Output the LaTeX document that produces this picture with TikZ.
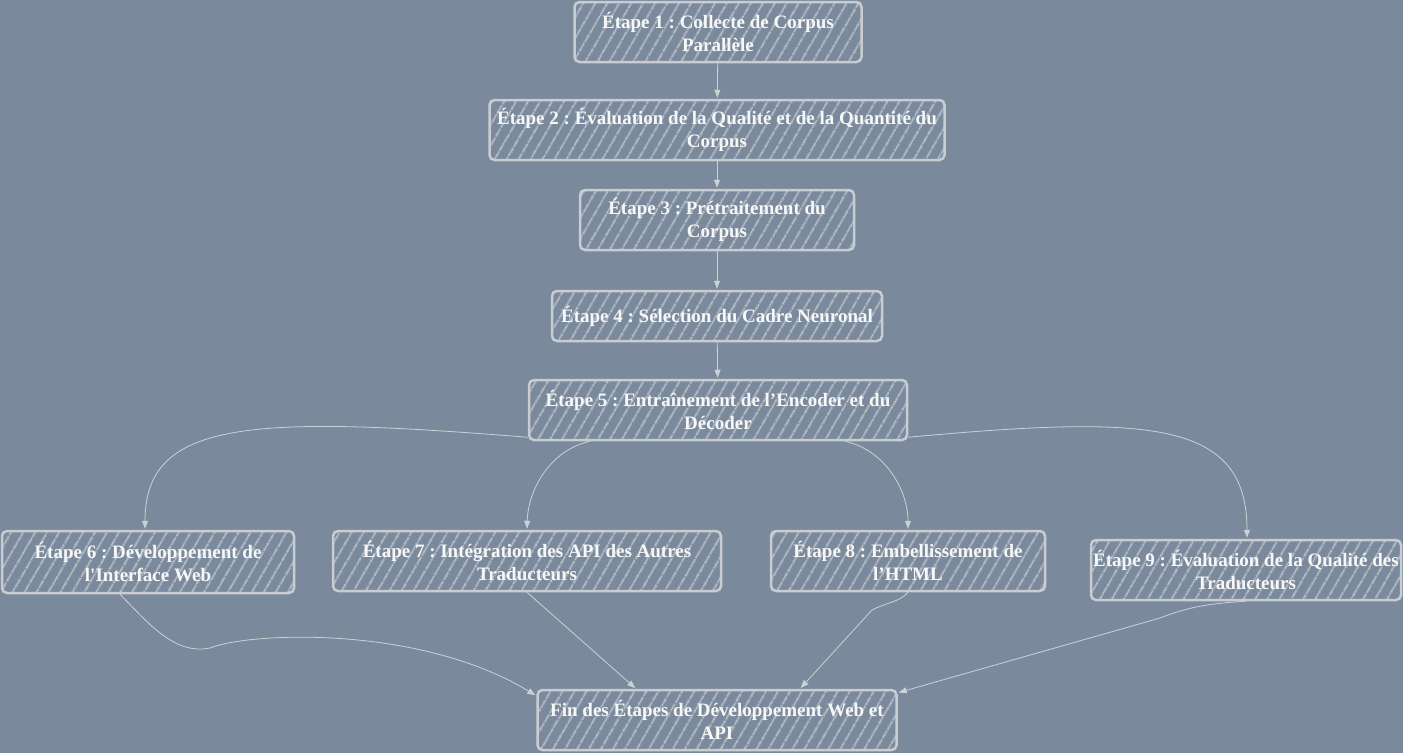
\documentclass[tikz,border=0pt]{standalone}
\usepackage{fontspec}
\setmainfont{Liberation Serif}[Ligatures=TeXOff]
\frenchspacing
\usetikzlibrary{arrows.meta,patterns.meta}
\definecolor{canvas}{HTML}{7A8A9C}
\definecolor{rim}{HTML}{C9CDD2}
\definecolor{hatch}{HTML}{BFC5CC}
\definecolor{ink}{HTML}{F7F7F7}
\definecolor{link}{HTML}{CDD1D6}

\begin{document}
\begin{tikzpicture}[x=1pt,y=-1pt,
  stepbox/.style={draw=rim,line width=2.5pt,rounded corners=5pt,
    pattern={Lines[angle=60,distance=10.5pt,line width=1.6pt]},pattern color=hatch,
    text=ink,font=\fontsize{19}{23}\selectfont\bfseries,align=center,
    minimum height=60pt,inner sep=0pt},
  edge/.style={link,line width=0.8pt,shorten >=1pt,-{Triangle[length=8pt,width=6pt]}}]
  % Canvas
  \fill[canvas] (0,0) rectangle (1403,753);
  \useasboundingbox (0,0) rectangle (1403,753);

  % Main chain
  \node[stepbox,minimum width=287pt] (s1) at (718,32) {Étape 1 : Collecte de Corpus\\Parallèle};
  \node[stepbox,minimum width=455pt] (s2) at (717,130) {Étape 2 : Évaluation de la Qualité et de la Quantité du\\Corpus};
  \node[stepbox,minimum width=274pt] (s3) at (717,220) {Étape 3 : Prétraitement du\\Corpus};
  \node[stepbox,minimum width=330pt,minimum height=50pt] (s4) at (717,316) {Étape 4 : Sélection du Cadre Neuronal};
  \node[stepbox,minimum width=378pt] (s5) at (718,410) {Étape 5 : Entraînement de l’Encoder et du\\Décoder};

  % Branches
  \node[stepbox,minimum width=292pt,minimum height=62pt] (s6) at (148,562) {Étape 6 : Développement de\\l'Interface Web};
  \node[stepbox,minimum width=388pt] (s7) at (527,561) {Étape 7 : Intégration des API des Autres\\Traducteurs};
  \node[stepbox,minimum width=274pt] (s8) at (908,561) {Étape 8 : Embellissement de\\l’HTML};
  \node[stepbox,minimum width=310pt] (s9) at (1246,570) {Étape 9 : Évaluation de la Qualité des\\Traducteurs};

  % End
  \node[stepbox,minimum width=359pt] (fin) at (717,720) {Fin des Étapes de Développement Web et\\API};

  % Chain arrows
  \draw[edge] (s1) -- (s2);
  \draw[edge] (s2) -- (s3);
  \draw[edge] (s3) -- (s4);
  \draw[edge] (s4) -- (s5);

  % Fan out
  \draw[edge] ([yshift=4pt]s5.south west) .. controls (250,415) and (145,420) .. ([xshift=-3pt]s6.north);
  \draw[edge] ([xshift=-128pt]s5.south) .. controls (550,450) and (528,490) .. (s7.north);
  \draw[edge] ([xshift=127pt]s5.south) .. controls (885,450) and (908,490) .. (s8.north);
  \draw[edge] ([yshift=4pt]s5.south east) .. controls (1150,415) and (1247,420) .. ([xshift=1pt]s9.north);

  % Fan in
  \draw[edge] ([xshift=-28pt]s6.south) .. controls (150,625) and (175,655) .. (210,648)
    .. controls (250,632) and (420,625) .. ([yshift=-7pt]fin.north west);
  \draw[edge] (s7.south) -- ([xshift=-81pt]fin.north);
  \draw[edge] (s8.south) .. controls (900,602) and (885,603) .. (872,610) -- ([xshift=83pt]fin.north);
  \draw[edge] (s9.south) .. controls (1215,603) and (1190,606) .. (1160,618) -- ([yshift=-4pt]fin.north east);
\end{tikzpicture}
\end{document}
